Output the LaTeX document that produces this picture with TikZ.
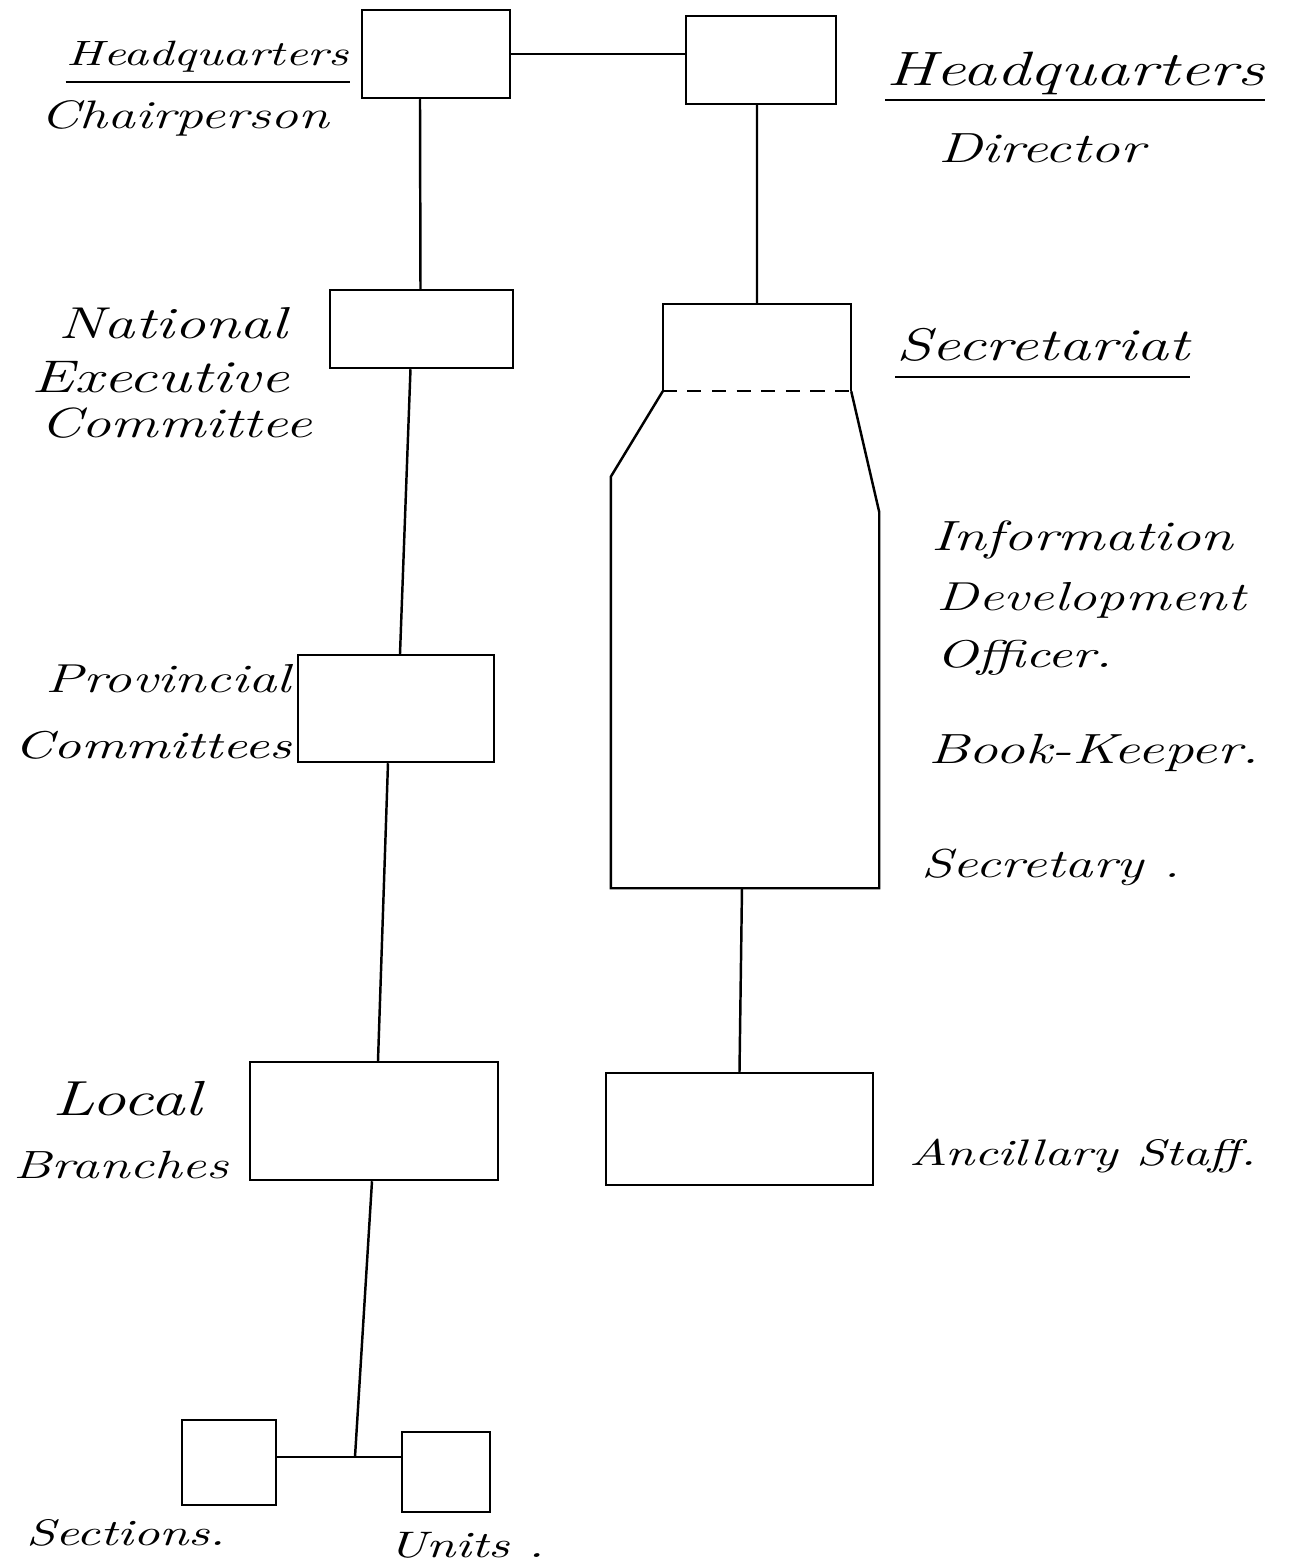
\documentclass[tikz,border=0pt]{standalone}
\usepackage{fontspec}
\newfontfamily\handfont{Latin Modern Roman}[FakeStretch=1.4]
\usetikzlibrary{fit}
\begin{document}
\begin{tikzpicture}[x=0.01cm, y=-0.01cm, line width=0.7pt,
    box/.style={draw, inner sep=0pt},
    hand/.style={font=\handfont\itshape\fontsize{#1}{#1}\selectfont, inner sep=0pt},
    hand/.default=12]
    \useasboundingbox (0,0) rectangle (1307,1568);

    % boxes, left column
    \node [box, fit={(362,10) (510,98)}] (chair) {};
    \node [box, fit={(330,290) (513,368)}] (nec) {};
    \node [box, fit={(298,655) (494,762)}] (prov) {};
    \node [box, fit={(250,1062) (498,1180)}] (local) {};
    \node [box, fit={(182,1420) (276,1505)}] (sect) {};
    \node [box, fit={(402,1432) (490,1512)}] (unit) {};
    \coordinate (join) at (355,1457);

    % boxes, right column
    \node [box, fit={(686,16) (836,104)}] (dir) {};
    \node [inner sep=0pt, fit={(664,305) (850,390)}] (sec) {};
    \node [inner sep=0pt, fit={(612,478) (878,887)}] (body) {};
    \node [box, fit={(606,1073) (873,1185)}] (anc) {};

    \draw (sec.south west) |- (sec.north east) -- (sec.south east);
    \draw [dash pattern=on 4pt off 3pt] (sec.south west) -- (sec.south east);
    \draw (sec.south west) -- (body.north west) -- (body.south west)
        -- (body.south east) -- (body.south east |- 0,512) -- (sec.south east);

    % connectors
    \draw (chair.east) -- (dir.west |- chair.east);
    \draw ([xshift=-0.16cm]chair.south) -- ([xshift=-0.01cm]nec.north);
    \draw ([xshift=-0.11cm]nec.south) -- ([xshift=0.04cm]prov.north);
    \draw ([xshift=-0.08cm]prov.south) -- ([xshift=0.04cm]local.north);
    \draw ([xshift=-0.02cm]local.south) -- (join);
    \draw (sect.east |- join) -- (unit.west |- join);
    \draw ([xshift=-0.04cm]dir.south) -- (sec.north);
    \draw ([xshift=-0.03cm]body.south) -- (anc.north);

    % labels, left
    \node [hand=10, anchor=base east] (hqc) at (350,65) {Headquarters};
    \node [hand=11.3, anchor=base east] (chairp) at (330,128) {Chairperson};
    \node [hand=12.7, anchor=base east] (natl) at (288,338) {National};
    \node [hand=13, anchor=base east] (exec) at (290,392) {Executive};
    \node [hand=12, anchor=base east] (comm) at (313,437) {Committee};
    \node [hand=11.5, anchor=base east] (provl) at (292,692) {Provincial};
    \node [hand=11, anchor=base east] (comms) at (293,758) {Committees};
    \node [hand=14, anchor=base east] (locl) at (203,1115) {Local};
    \node [hand=11.2, anchor=base east] (branch) at (230,1178) {Branches};
    \node [hand=10.5, anchor=base east] (sectl) at (227,1545) {Sections.};
    \node [hand=10.5, anchor=base west] (unitl) at (387,1557) {Units .};

    % labels, right
    \node [hand=13.7, anchor=base west] (hqd) at (885,85) {Headquarters};
    \node [hand=12, anchor=base west] (direc) at (937,162) {Director};
    \node [hand=13, anchor=base west] (secl) at (895,360) {Secretariat};
    \node [hand=12, anchor=base west] (info) at (930,550) {Information};
    \node [hand=11.5, anchor=base west] (devel) at (935,610) {Development};
    \node [hand=11, anchor=base west] (offc) at (935,667) {Officer.};
    \node [hand=12, anchor=base west] (bookk) at (927,763) {Book-Keeper.};
    \node [hand=11.5, anchor=base west] (secy) at (920,877) {Secretary .};
    \node [hand=10.5, anchor=base west] (ancl) at (908,1165) {Ancillary Staff.};

    % underlines
    \draw ([yshift=-0.17cm]hqc.base west) -- ([yshift=-0.17cm]hqc.base east);
    \draw ([yshift=-0.15cm]hqd.base west) -- ([yshift=-0.15cm]hqd.base east);
    \draw ([yshift=-0.17cm]secl.base west) -- ([yshift=-0.17cm]secl.base east);
\end{tikzpicture}
\end{document}
